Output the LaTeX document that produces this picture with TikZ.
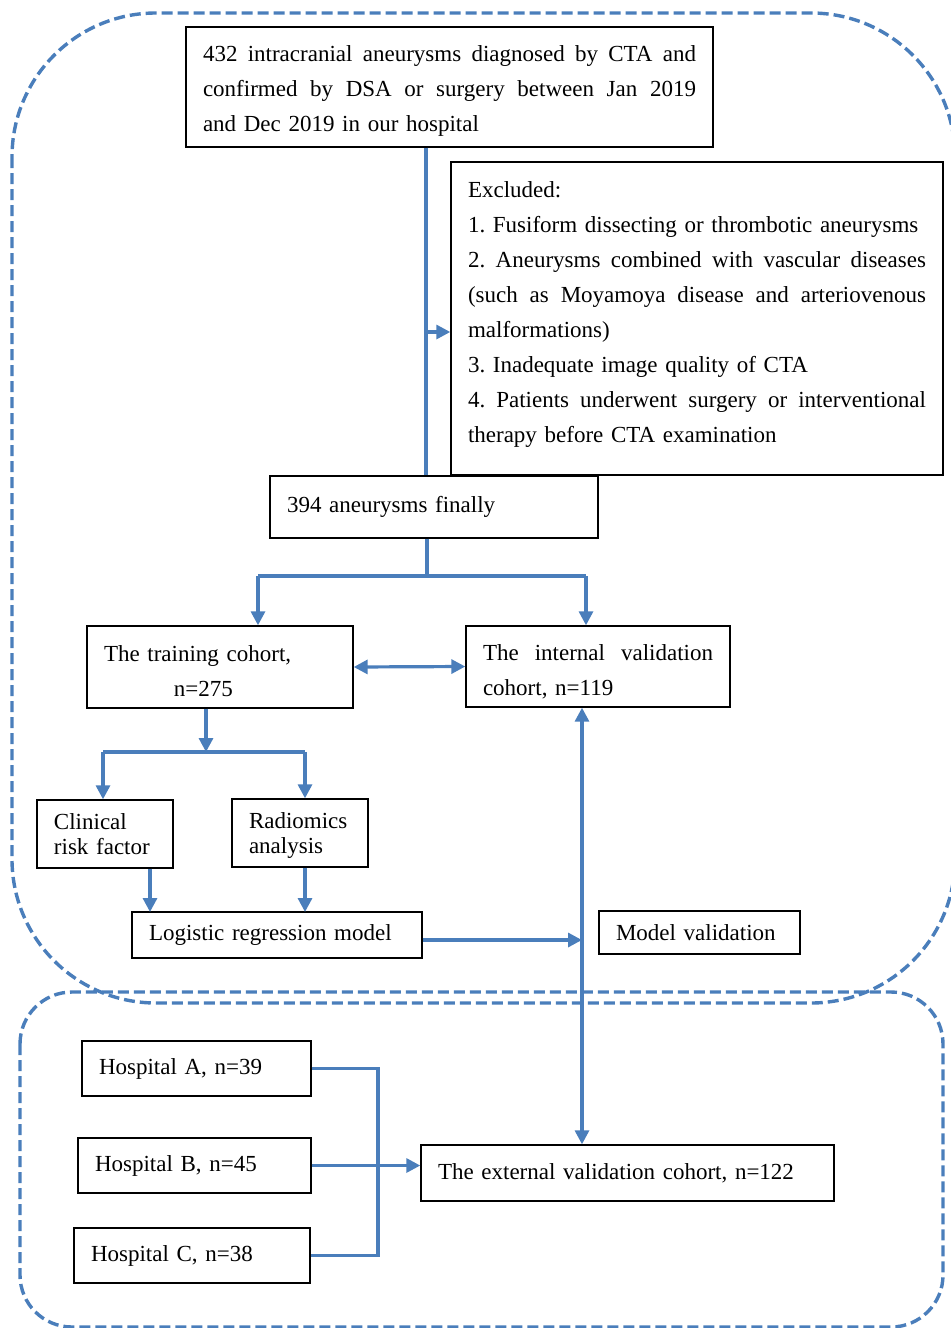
\documentclass[tikz,border=0pt]{standalone}
\usepackage{fontspec}
\setmainfont{Liberation Serif}
\usetikzlibrary{arrows.meta}
\usetikzlibrary{calc}

\definecolor{flowblue}{RGB}{74,126,187}
\newcommand{\jline}[2]{{\spaceskip=0pt\xspaceskip=0pt\makebox[#1][s]{#2}}}
\newcommand{\lift}{\rule{0pt}{12pt}}
\frenchspacing

\begin{document}
\begin{tikzpicture}[x=0.5pt,y=-0.5pt,
  box/.style={draw=black,line width=0.7pt,inner xsep=8.5pt,inner ysep=0pt,align=left,
    font=\fontsize{11.5}{17.5}\selectfont},
  tight/.style={font=\fontsize{11.5}{12.5}\selectfont},
  flow/.style={draw=flowblue,line width=1.6pt},
  arr/.style={-{Triangle[length=7pt,width=7pt]}},
  arrs/.style={{Triangle[length=7pt,width=7pt]}-{Triangle[length=7pt,width=7pt]}},
  region/.style={draw=flowblue,line width=1.7pt,dash pattern=on 5.5pt off 2.5pt}]%cohorts
\useasboundingbox (0,0) rectangle (951,1328);
% the two dashed regions
\draw[region,rounded corners=72pt] (12,13) rectangle (955,1003);
\draw[region,rounded corners=26pt] (20,992) rectangle (943,1327);
% boxes
\node[box,text width=246.5pt,minimum height=60pt] (top) at (449.5,87)
  {\lift\jline{246.5pt}{432 intracranial aneurysms diagnosed by CTA and}\\
   \jline{246.5pt}{confirmed by DSA or surgery between Jan 2019}\\
   and Dec 2019 in our hospital};
\node[box,text width=229pt,minimum height=156.5pt] (excl) at (697,318.5)
  {Excluded:\\
   1. Fusiform dissecting or thrombotic aneurysms\\
   \jline{229pt}{2. Aneurysms combined with vascular diseases}\\
   \jline{229pt}{(such as Moyamoya disease and arteriovenous}\\
   malformations)\\
   3. Inadequate image quality of CTA\\
   \jline{229pt}{4. Patients underwent surgery or interventional}\\
   therapy before CTA examination\rule[-6.5pt]{0pt}{0pt}};
\node[box,text width=147pt,minimum height=31pt] (fin) at (434,507) {394 aneurysms finally};
\node[box,text width=116pt,minimum height=41pt] (train) at (220,667)
  {\lift The training cohort,\\\hspace*{35pt}n=275};
\node[box,text width=115pt,minimum height=40.5pt] (intl) at (598,666.5)
  {\rule{0pt}{13pt}\jline{115pt}{The internal validation}\\cohort, n=119};
\node[box,tight,text width=51pt,minimum height=34pt] (clin) at (105,834) {Clinical\\risk factor};
\node[box,tight,text width=51pt,minimum height=34pt] (radio) at (300,833) {\rule{0pt}{10pt}Radiomics\\analysis};
\node[box,text width=128pt,minimum height=23pt] (logi) at (277,935) {Logistic regression model};
\node[box,text width=83.5pt,minimum height=21.5pt] (modv) at (699.5,932.5) {Model validation};
\node[box,text width=97.5pt,minimum height=27.5pt] (hA) at (196.5,1068.5) {Hospital A, n=39};
\node[box,text width=99.5pt,minimum height=27.5pt] (hB) at (194.5,1165.5) {Hospital B, n=45};
\node[box,text width=101pt,minimum height=27.5pt] (hC) at (192,1255.5) {Hospital C, n=38};
\node[box,text width=189.5pt,minimum height=28pt] (ext) at (627.5,1173) {The external validation cohort, n=122};
% junction points
\coordinate (split) at (426,332);
\coordinate (fork) at (427,576);
\coordinate (forkL) at (258,576);
\coordinate (forkR) at (586,576);
\coordinate (sub) at (206,752);
\coordinate (subL) at (103,752);
\coordinate (subR) at (305,752);
\coordinate (inL) at (150,912);
\coordinate (inR) at (305,912);
\coordinate (valx) at (582,940);
\coordinate (merge) at (378,1168);
% connectors
\draw[flow] (top.south -| split) -- (fin.north -| split);
\draw[flow,arr] (split) -- (split -| excl.west);
\draw[flow] (fin.south -| fork) -- (fork);
\draw[flow] (forkL) -- (forkR);
\draw[flow,arr] (forkL) -- (forkL |- train.north);
\draw[flow,arr] (forkR) -- (forkR |- intl.north);
\draw[flow,arrs] (train.east) -- (intl.west);
\draw[flow,arr] (train.south -| sub) -- (sub);
\draw[flow] (subL) -- (subR);
\draw[flow,arr] (subL) -- (subL |- clin.north);
\draw[flow,arr] (subR) -- (subR |- radio.north);
\draw[flow,arr] (clin.south -| inL) -- (inL);
\draw[flow,arr] (radio.south -| inR) -- (inR);
\draw[flow,arr] (valx -| logi.east) -- (valx);
\draw[flow,arrs] (intl.south -| valx) -- (ext.north -| valx);
\draw[flow] (hA.east) -- (hA.east -| merge) -- (hC.east -| merge) -- (hC.east);
\draw[flow,arr] (hB.east) -- (hB.east -| ext.west);
\end{tikzpicture}
\end{document}
